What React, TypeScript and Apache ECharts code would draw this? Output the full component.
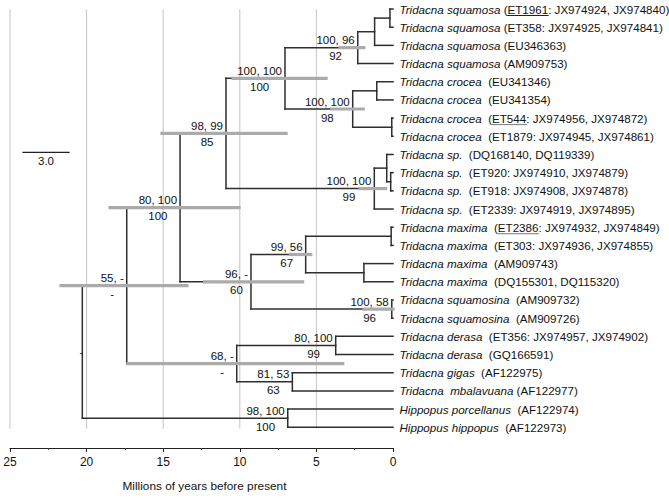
import React, { useEffect, useRef } from 'react';
import * as echarts from 'echarts';

const FONT = '"Liberation Sans", Arial, Helvetica, sans-serif';
const LABEL_SIZE = 11.5;
const LEAF_SIZE = 11.6;

// ---- leaves (top to bottom) ----
const leafSpecies = [
  'Tridacna squamosa', 'Tridacna squamosa', 'Tridacna squamosa', 'Tridacna squamosa',
  'Tridacna crocea', 'Tridacna crocea', 'Tridacna crocea', 'Tridacna crocea',
  'Tridacna sp.', 'Tridacna sp.', 'Tridacna sp.', 'Tridacna sp.',
  'Tridacna maxima', 'Tridacna maxima', 'Tridacna maxima', 'Tridacna maxima',
  'Tridacna squamosina', 'Tridacna squamosina',
  'Tridacna derasa', 'Tridacna derasa',
  'Tridacna gigas', 'Tridacna  mbalavuana',
  'Hippopus porcellanus', 'Hippopus hippopus',
];
const leafAccessions = [
  ' (ET1961: JX974924, JX974840)', ' (ET358: JX974925, JX974841)', ' (EU346363)', ' (AM909753)',
  '  (EU341346)', '  (EU341354)', '  (ET544: JX974956, JX974872)', '  (ET1879: JX974945, JX974861)',
  '  (DQ168140, DQ119339)', '  (ET920: JX974910, JX974879)', '  (ET918: JX974908, JX974878)', '  (ET2339: JX974919, JX974895)',
  '  (ET2386: JX974932, JX974849)', '  (ET303: JX974936, JX974855)', '  (AM909743)', '  (DQ155301, DQ115320)',
  '  (AM909732)', '  (AM909726)',
  '  (ET356: JX974957, JX974902)', '  (GQ166591)',
  '  (AF122975)', ' (AF122977)',
  '  (AF122974)', '  (AF122973)',
];
const leafUnderlined = [
  'ET1961', '', '', '', '', '', 'ET544', '', '', '', '', '',
  'ET2386', '', '', '', '', '', '', '', '', '', '', '',
];

// ---- internal nodes ----
const nodeIds = ['n1', 'n2', 'n3', 'n4', 'n5', 'n6', 'n7', 'n8', 'n9', 'n10', 'n11', 'n12', 'n13', 'n14', 'n15', 'n16', 'n17', 'n18', 'n19', 'n20', 'n21', 'n22', 'root'];
const nodeChildren: (number | string)[][] = [
  [0, 1], ['n1', 2], ['n2', 3], [4, 5], [6, 7], ['n4', 'n5'], ['n3', 'n6'],
  [9, 10], [8, 'n8'], ['n9', 11], ['n7', 'n10'],
  [12, 13], [14, 15], ['n12', 'n13'], [16, 17], ['n14', 'n15'], ['n11', 'n16'],
  [18, 19], ['n18', 'n20'], [20, 21], [22, 23], ['n17', 'n19'], ['n22', 'n21'],
];
const nodeAges = [0.2, 1.2, 2.3, 1.06, 0.08, 2.63, 7.05, 0.15, 0.41, 1.22, 10.9, 0.12, 1.9, 5.7, 0.08, 9.27, 13.9, 3.74, 10.2, 6.57, 6.87, 17.38, 20.28];
const nodeSupportTop = ['', '', '100, 96', '', '', '100, 100', '100, 100', '', '', '100, 100', '98, 99', '', '', '99, 56', '100, 58', '96, -', '80, 100', '80, 100', '68, -', '81, 53', '98, 100', '55, -', ''];
const nodeSupportBottom = ['', '', '92', '', '', '98', '100', '', '', '99', '85', '', '', '67', '96', '60', '100', '99', '-', '63', '100', '-', ''];
const hpdOld: (number | null)[] = [null, null, 3.46, null, null, 4.0, 10.44, null, null, 2.15, 15.08, null, null, 6.7, 1.9, 12.3, 18.47, null, 17.3, null, null, 21.67, null];
const hpdYoung: (number | null)[] = [null, null, 1.9, null, null, 1.94, 4.37, null, null, 0.48, 6.98, null, null, 5.37, 0.0, 5.9, 10.05, null, 3.28, null, null, 13.45, null];
const rootMark = '-';

// ---- axis / decorations ----
const gridAges = [25, 20, 15, 10, 5];
const scaleBarStart = [24.15];
const scaleBarLength = 3.0;
const scaleBarLabel = '3.0';
const scaleBarRow = 7.88;

const BRANCH = '#2e2e2e';
const HPD = '#ababab';

const nodeIndex: Record<string, number> = {};
nodeIds.forEach((id, i) => { nodeIndex[id] = i; });
const yCache: Record<string, number> = {};
function yOf(ref: number | string): number {
  if (typeof ref === 'number') return ref;
  if (yCache[ref] !== undefined) return yCache[ref];
  const kids = nodeChildren[nodeIndex[ref]];
  const v = kids.reduce((s, k) => s + yOf(k), 0) / kids.length;
  yCache[ref] = v;
  return v;
}
function ageOf(ref: number | string): number {
  return typeof ref === 'number' ? 0 : nodeAges[nodeIndex[ref]];
}

let measureCtx: CanvasRenderingContext2D | null = null;
function textWidth(text: string, font: string): number {
  if (!measureCtx) measureCtx = document.createElement('canvas').getContext('2d');
  if (!measureCtx) return text.length * 6;
  measureCtx.font = font;
  return measureCtx.measureText(text).width;
}

export default function App() {
  const ref = useRef<HTMLDivElement>(null);
  useEffect(() => {
    if (!ref.current) return;
    const chart = echarts.init(ref.current, null, { renderer: 'svg' });
    const lineEl = (a: number[], b: number[], stroke: string, w: number) => ({
      type: 'line',
      shape: { x1: a[0], y1: a[1], x2: b[0], y2: b[1] },
      style: { stroke, lineWidth: w, lineCap: 'square' },
      silent: true,
    });

    const option: any = {
      animation: false,
      grid: { left: 10, right: 276, top: 9, bottom: 50 },
      xAxis: {
        type: 'value', min: 0, max: 25, interval: 5, inverse: true,
        axisLine: { show: true, onZero: false, lineStyle: { color: '#222', width: 1.2 } },
        axisTick: { show: true, length: 4, lineStyle: { color: '#222', width: 1 } },
        minorTick: { show: true, splitNumber: 2, length: 2, lineStyle: { color: '#444', width: 1 } },
        splitLine: { show: false },
        axisLabel: { color: '#111', fontSize: 12, fontFamily: FONT, margin: 8 },
        name: 'Millions of years before present', nameLocation: 'middle', nameGap: 32,
        nameTextStyle: { color: '#111', fontSize: 11.8, fontFamily: FONT, padding: [0, 0, 0, 6] },
      },
      yAxis: { type: 'value', min: 0, max: 24.14, inverse: true, show: false },
      series: [
        {
          type: 'custom', name: 'grid', silent: true, z: 1,
          data: gridAges.map((v) => [v]),
          renderItem: (params: any, api: any) => {
            const v = gridAges[params.dataIndex];
            return lineEl(api.coord([v, 0.05]), api.coord([v, 23.05]), '#c4c4c4', 1);
          },
        },
        {
          type: 'custom', name: 'branches', silent: true, z: 2,
          data: nodeIds.map((id, i) => [nodeAges[i], yOf(id)]),
          renderItem: (params: any, api: any) => {
            const i = params.dataIndex;
            const age = nodeAges[i];
            const kids = nodeChildren[i];
            const ys = kids.map(yOf);
            const children: any[] = [
              lineEl(api.coord([age, Math.min(...ys)]), api.coord([age, Math.max(...ys)]), BRANCH, 1.5),
            ];
            kids.forEach((k) => {
              children.push(lineEl(api.coord([age, yOf(k)]), api.coord([ageOf(k), yOf(k)]), BRANCH, 1.5));
            });
            return { type: 'group', children };
          },
        },
        {
          type: 'custom', name: 'hpd', silent: true, z: 3,
          data: nodeIds.map((id, i) => [nodeAges[i], yOf(id)]),
          renderItem: (params: any, api: any) => {
            const i = params.dataIndex;
            const o = hpdOld[i];
            const yv = hpdYoung[i];
            if (o === null || yv === null) return { type: 'group', children: [] };
            const y = yOf(nodeIds[i]);
            return lineEl(api.coord([o, y]), api.coord([yv, y]), HPD, 3.2);
          },
        },
        {
          type: 'custom', name: 'support', silent: true, z: 4,
          data: nodeIds.map((id, i) => [nodeAges[i], yOf(id)]),
          renderItem: (params: any, api: any) => {
            const i = params.dataIndex;
            const p = api.coord([nodeAges[i], yOf(nodeIds[i])]);
            const children: any[] = [];
            const font = `${LABEL_SIZE}px ${FONT}`;
            if (nodeIds[i] === 'root') {
              children.push({
                type: 'text', x: p[0] + 1, y: p[1],
                style: { text: rootMark, fill: '#111', font, align: 'right', verticalAlign: 'middle' },
              });
            }
            const top = nodeSupportTop[i];
            if (top) {
              const w = textWidth(top, font);
              const right = p[0] - 3;
              children.push({
                type: 'text', x: right, y: p[1] - 7.5,
                style: { text: top, fill: '#111', font, align: 'right', verticalAlign: 'middle' },
              });
              children.push({
                type: 'text', x: right - w / 2, y: p[1] + 8.5,
                style: { text: nodeSupportBottom[i], fill: '#111', font, align: 'center', verticalAlign: 'middle' },
              });
            }
            return { type: 'group', children };
          },
        },
        {
          type: 'custom', name: 'leaves', silent: true, z: 4,
          data: leafSpecies.map((_, i) => [0, i]),
          renderItem: (params: any, api: any) => {
            const i = params.dataIndex;
            const p = api.coord([0, i]);
            const x0 = p[0] + 6.5;
            const italicFont = `italic ${LEAF_SIZE}px ${FONT}`;
            const normalFont = `${LEAF_SIZE}px ${FONT}`;
            const children: any[] = [
              {
                type: 'text', x: x0, y: p[1],
                style: {
                  text: `{s|${leafSpecies[i]}}{n|${leafAccessions[i]}}`,
                  rich: {
                    s: { fontStyle: 'italic', fontSize: LEAF_SIZE, fontFamily: FONT, fill: '#111' },
                    n: { fontSize: LEAF_SIZE, fontFamily: FONT, fill: '#111' },
                  },
                  fill: '#111', fontSize: LEAF_SIZE, fontFamily: FONT,
                  align: 'left', verticalAlign: 'middle',
                },
              },
            ];
            const u = leafUnderlined[i];
            if (u) {
              const acc = leafAccessions[i];
              const pre = acc.slice(0, acc.indexOf(u));
              const ux = x0 + textWidth(leafSpecies[i], italicFont) + textWidth(pre, normalFont);
              const uw = textWidth(u, normalFont);
              children.push(lineEl([ux, p[1] + 6.5], [ux + uw, p[1] + 6.5], i === 0 ? '#222' : '#777', 1));
            }
            return { type: 'group', children };
          },
        },
        {
          type: 'custom', name: 'scalebar', silent: true, z: 4,
          data: scaleBarStart.map((v) => [v, scaleBarRow]),
          renderItem: (params: any, api: any) => {
            const s = scaleBarStart[params.dataIndex];
            const a = api.coord([s, scaleBarRow]);
            const b = api.coord([s - scaleBarLength, scaleBarRow]);
            return {
              type: 'group',
              children: [
                lineEl(a, b, '#222', 1.3),
                {
                  type: 'text', x: (a[0] + b[0]) / 2, y: a[1] + 9,
                  style: { text: scaleBarLabel, fill: '#111', font: `${LABEL_SIZE}px ${FONT}`, align: 'center', verticalAlign: 'middle' },
                },
              ],
            };
          },
        },
      ],
    };
    chart.setOption(option);
    return () => chart.dispose();
  }, []);
  return <div ref={ref} style={{ width: 669, height: 498, position: 'absolute', left: 0, top: 0 }} />;
}
